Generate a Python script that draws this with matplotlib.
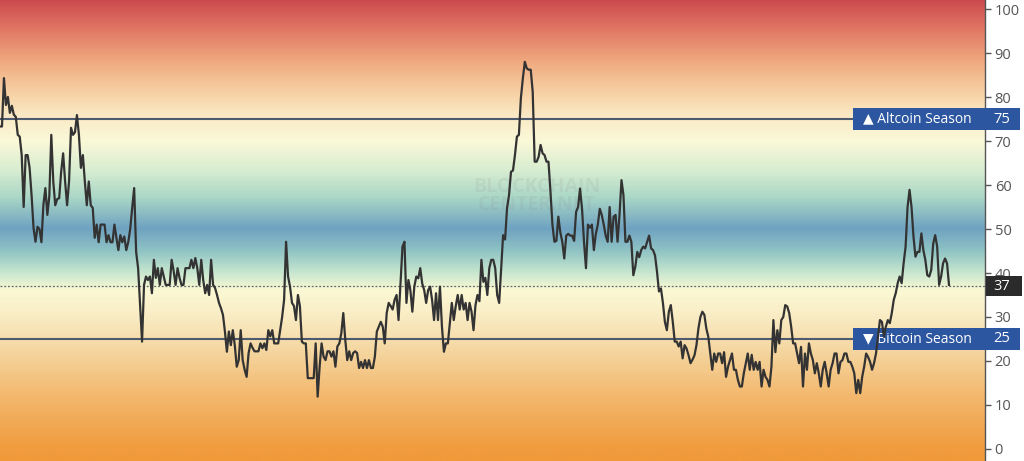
import numpy as np
import matplotlib
matplotlib.use("Agg")
import matplotlib.pyplot as plt
from matplotlib.colors import LinearSegmentedColormap, Normalize
from matplotlib.patches import Rectangle
import matplotlib.transforms as mtransforms

# altcoin season index (oldest -> newest)
part1 = [73.3, 73.3, 84.3, 78.2, 80, 76.4, 78, 76, 75.5, 71.4, 71, 66.8, 55, 66.8, 66.8, 63.9, 57.7, 50.2, 47.1, 50.5,
         50, 47, 55.5, 59.3, 53.2, 57.5, 71.4, 60.8, 55.4, 56.8, 57, 63, 67.2, 60.8, 55.4, 60.8, 73, 71.4, 72, 75.9,
         71.4, 63.9, 66.8, 60.8, 55.4, 60.8, 55.4, 54.8, 48, 51, 47, 51, 51, 51, 47, 48.6, 47, 47, 51, 48,
         45.2, 48.6, 47, 48.3, 45.2, 47, 50, 54.8, 59.3, 44.8, 41.1, 32.7, 24.4, 37.3, 39.2, 38.4, 39.2, 35.4, 43, 38.9,
         41.1, 37.3, 41.1, 39.2, 37.3, 37.3, 37.3, 43, 40.5, 37.3, 41.1, 38.9, 37.3, 37.3, 41.1, 41.1, 41.1, 43, 41.1, 43.4,
         41.1, 37.3, 43, 38.4, 35.4, 37.3, 35, 43, 37.3, 36.6, 35, 33.2, 32, 30.5, 26.7, 22.1, 26.7, 23.6, 27, 23.6]
part2 = [18.7, 20.2, 27, 20.2, 18, 16.4, 21.8, 24, 23, 22.2, 22.2, 22.2, 24, 22.9, 24, 22.5, 27, 25.6, 27, 24,
         24, 24, 27, 30, 33.9, 47.1, 39.2, 36.9, 33.2, 32.5, 29.3, 35, 32.5, 24.4, 24, 24, 16.1, 16.1, 16.1, 16.1,
         24, 11.9, 18.7, 24, 21, 20.2, 22.2, 22.2, 21, 22.2, 18.7, 23.3, 24, 26.3, 30.9, 24.8, 20.2, 22.2, 20.2, 21.8,
         22.2, 21.8, 18.4, 19.8, 18.4, 20.2, 18.4, 20.2, 18.4, 18.4, 21, 26.7, 27.8, 28.9, 27.8, 24, 30.9, 33.2, 32.5, 31.7,
         33.9, 35, 29.3, 37.6, 46, 47.1, 33.2, 38.4, 36.1, 31.2, 36.9, 39.2, 38.8, 41.1, 37.6, 36.1, 33.2, 36.1, 36.9, 33.9,
         29.3, 35.4, 29.3, 36.9, 27.8, 22.1, 24, 24, 28.6, 33.2, 29.3, 32.5, 35, 31.7, 35, 31.7, 33.2, 29.3, 33.2]
part3 = [31.2, 27, 32.7, 35, 33.6, 43, 38, 38.9, 35, 41.1, 43, 43, 41.1, 35, 33.2, 41.1, 48.6, 47.6, 54.8, 57.7,
         63, 63.3, 66.8, 71, 71.4, 79.7, 84.2, 88, 86.5, 86.2, 86.2, 81.2, 65.3, 65.3, 66.4, 69.1, 67.2, 66.8, 65.3, 65.3,
         58.5, 51, 47.1, 47.3, 52.8, 49.2, 47.1, 43.3, 48.5, 48.9, 48.5, 48.5, 47.3, 53.9, 55, 59.2, 54.6, 47.1, 41.1, 51,
         50.3, 51, 45.2, 48.9, 51, 54.6, 53.2, 51, 48.5, 47.1, 55, 47.1, 52.8, 53.2, 47.1, 53.2, 61.1, 57.7, 47.1, 47.1,
         48.5, 47.1, 39.5, 41.4, 44.8, 43.6, 45.2, 46, 45.6, 47.1, 48.5, 45.6, 45.2, 44, 40.3, 35.8, 36.5, 33.2, 28.9, 27,
         31.2, 32.7, 28.9, 24.4, 24.4, 23.3, 24.4, 20.6, 23.6, 22.8, 21.3, 19.5, 20.3, 21.3, 23.6, 27.4, 30, 31.2, 30.5, 27.4]
part4 = [25.5, 21.7, 18, 21.7, 19.8, 21.7, 21.7, 19.5, 22, 16.4, 18.7, 20.2, 21.7, 18, 18, 15.7, 14.2, 14.2, 17.2, 19.5,
         21.7, 18, 21.4, 18, 19.8, 18, 19.8, 14.2, 18, 16.4, 15.7, 14.2, 18.7, 29.3, 22, 27, 24, 29.3, 30, 32.7,
         32.4, 30.9, 27.8, 24, 24, 21.7, 19.5, 23.2, 14.2, 21.7, 18, 24, 21.7, 20.2, 17.2, 19.5, 17.2, 14.2, 18, 19.8,
         17.2, 14.2, 18, 19.5, 21.7, 21.7, 17.2, 19.8, 20.2, 21.7, 21.7, 19.8, 19.8, 18.7, 17.2, 12.7, 15.7, 12.7, 16.4, 18.7,
         21.7, 20.9, 19.8, 18, 19.5, 21.7, 25.5, 29.3, 28.9, 25.5, 27.8, 29.3, 28.6, 30.9, 33.9, 35.4, 37.7, 39.2, 37.7, 42.2,
         46, 55, 58.9, 55, 48.3, 43.7, 44.8, 44.8, 49, 45.2, 43, 39.5, 39.2, 40.7, 46.7, 48.6, 46, 37.3, 39.2, 42.2,
         43.3, 42.2, 37.3]

index_values = np.array(part1 + part2 + part3 + part4)
current = 37
alt_level = 75
btc_level = 25
yticks = list(range(0, 101, 10))

# background colour bands (value -> colour)
band_vals = [-3, 0, 12, 22, 30, 36, 40, 45, 50, 57, 63, 70, 76, 80, 88, 95, 103]
band_cols = ["#f09a3a", "#f09c3e", "#f3b86e", "#f5d6a0", "#f9ecc4", "#fbf9d4", "#c6e6cf", "#8fc3c4",
             "#6fa2c1", "#a9d6c6", "#d6ecd0", "#fbf9d8", "#fae8c4", "#f8d6aa", "#f0aa80", "#e27a66", "#cc4a4e"]

ymin, ymax = -2.73, 102.05
n = len(index_values)
xmax = (n - 1) * 985 / 949

fig = plt.figure(figsize=(10.24, 4.61), dpi=100)
ax = fig.add_axes([0, 0, 985 / 1024, 1])

pos = [(v - ymin) / (ymax - ymin) for v in band_vals]
pos = [min(max(p, 0), 1) for p in pos]
cmap = LinearSegmentedColormap.from_list("bands", list(zip(pos, band_cols)))
grad = np.linspace(ymin, ymax, 600).reshape(-1, 1)
ax.imshow(grad, extent=[0, xmax, ymin, ymax], origin="lower", aspect="auto",
          cmap=cmap, norm=Normalize(ymin, ymax), zorder=0)

# watermark
ax.text(0.545, 0.575, "BLOCKCHAIN\nCENTER.NET", transform=ax.transAxes, ha="center", va="center",
        fontsize=14, color="#888888", alpha=0.12, fontweight="bold", linespacing=0.9,
        family=["Open Sans", "DejaVu Sans"], zorder=1)

ax.axhline(alt_level, color="#4d5a70", lw=1.5, zorder=2)
ax.axhline(btc_level, color="#4d5a70", lw=1.5, zorder=2)
ax.axhline(current, color="#666666", lw=0.9, ls=(0, (1.5, 1.5)), zorder=2)

ax.plot(np.arange(n), index_values, color="#333333", lw=1.6, zorder=8)

ax.set_xlim(0, xmax)
ax.set_ylim(ymin, ymax)
ax.set_xticks([])
ax.set_yticks(yticks)
ax.yaxis.tick_right()
ax.tick_params(axis="y", direction="out", length=4, width=1, colors="#555555",
               labelsize=10.5, pad=3)
for lab in ax.get_yticklabels():
    lab.set_family(["Open Sans", "DejaVu Sans"])
for s in ["left", "top", "bottom"]:
    ax.spines[s].set_visible(False)
ax.spines["right"].set_color("#555555")
ax.spines["right"].set_linewidth(1)

trans = mtransforms.blended_transform_factory(ax.transAxes, ax.transData)
blue = "#2d56a0"
fam = ["Open Sans", "DejaVu Sans"]

for level, name in [(alt_level, "\u25B2 Altcoin Season"), (btc_level, "\u25BC Bitcoin Season")]:
    ax.add_patch(Rectangle((853 / 985, level - 2.55), (1020 - 853) / 985, 5.1, transform=trans,
                           clip_on=False, facecolor=blue, edgecolor="none", zorder=5))
    ax.text(863 / 985, level, name, transform=trans, ha="left", va="center", color="white",
            fontsize=10, family=fam, zorder=6, clip_on=False)
    ax.text(993 / 985, level, str(level), transform=trans, ha="left", va="center", color="white",
            fontsize=10.5, family=fam, zorder=6, clip_on=False)

ax.add_patch(Rectangle((986 / 985, current - 2.3), 36 / 985, 4.6, transform=trans,
                       clip_on=False, facecolor="#2b2b2b", edgecolor="none", zorder=5))
ax.text(993 / 985, current, str(current), transform=trans, ha="left", va="center", color="white",
        fontsize=10.5, family=fam, zorder=6, clip_on=False)

fig.savefig("out.png", dpi=100)
